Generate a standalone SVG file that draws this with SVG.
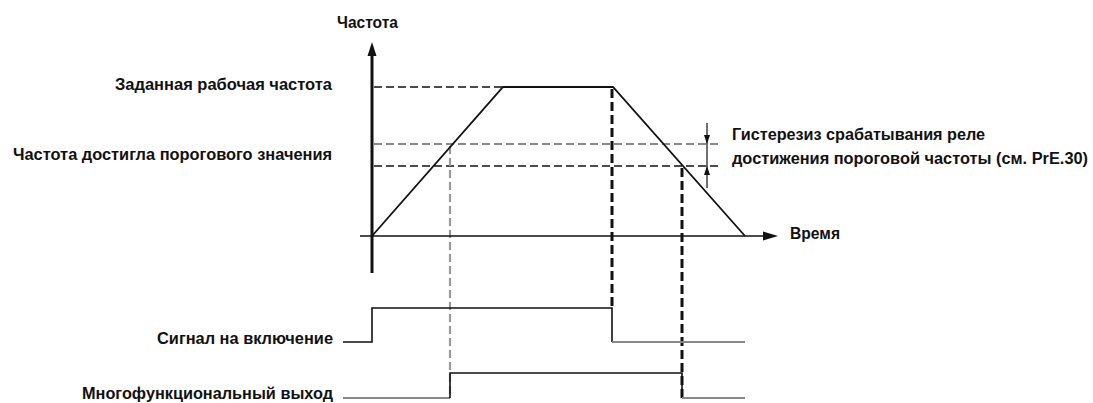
<svg xmlns="http://www.w3.org/2000/svg" width="1093" height="403" viewBox="0 0 1093 403">
<style>
text{font-family:"Liberation Sans",Arial,sans-serif;font-weight:bold;font-size:16px;fill:#111}
.ax{stroke:#111;fill:none}
.curve{stroke:#111;stroke-width:1.8;fill:none;stroke-linejoin:miter}
.hd{stroke:#111;stroke-width:1.6;stroke-dasharray:8 4;fill:none}
.hg{stroke:#888;stroke-width:2;stroke-dasharray:8 4;fill:none}
.vd{stroke:#111;stroke-width:3;stroke-dasharray:9 4;fill:none}
.vg{stroke:#999;stroke-width:2.2;stroke-dasharray:8 4;fill:none}
.sig{stroke:#111;stroke-width:1.6;fill:none}
.sigg{stroke:#888;stroke-width:2;fill:none}
.ah{fill:#111}
</style>
<rect width="1093" height="403" fill="#fff"/>
<g id="guides">
<line class="hd" x1="374" y1="87" x2="503" y2="87"/>
<line class="hg" x1="374" y1="144" x2="720" y2="144"/>
<line class="hd" x1="374" y1="166" x2="720" y2="166"/>
<line class="vg" x1="450" y1="146" x2="450" y2="398"/>
<line class="vd" x1="612" y1="89" x2="612" y2="308"/>
<line class="vd" x1="682" y1="168" x2="682" y2="398"/>
</g>
<g id="axes">
<line class="ax" stroke-width="3" x1="372" y1="54" x2="372" y2="273"/>
<polygon class="ah" points="372,42 376.5,56 367.5,56"/>
<line class="ax" stroke-width="1.6" x1="360" y1="236" x2="765" y2="236"/>
<polygon class="ah" points="778,236 763,231.5 763,240.5"/>
</g>
<g id="frequency-curve">
<polyline class="curve" points="372,236 503,87 613,87 745,236"/>
</g>
<g id="hysteresis">
<line stroke="#111" stroke-width="1.2" x1="707" y1="123" x2="707" y2="188"/>
<polygon class="ah" points="707,144 704,135 710,135"/>
<polygon class="ah" points="707,166 704,175 710,175"/>
</g>
<g id="signal-on">
<polyline class="sig" points="343,342 372,342 372,308 612,308 612,342"/>
<line class="sigg" x1="612" y1="342" x2="745" y2="342"/>
</g>
<g id="multi-output">
<line class="sigg" x1="343" y1="398" x2="450" y2="398"/>
<polyline class="sig" points="450,398 450,373 682,373 682,398"/>
<line class="sigg" x1="682" y1="398" x2="745" y2="398"/>
</g>
<g id="labels">
<text x="337" y="28" textLength="61" lengthAdjust="spacingAndGlyphs">Частота</text>
<text x="115" y="89.5" textLength="217" lengthAdjust="spacingAndGlyphs">Заданная рабочая частота</text>
<text x="13" y="159.5" textLength="319" lengthAdjust="spacingAndGlyphs">Частота достигла порогового значения</text>
<text x="732" y="139.5" textLength="253" lengthAdjust="spacingAndGlyphs">Гистерезиз срабатывания реле</text>
<text x="732" y="163.5" textLength="356" lengthAdjust="spacingAndGlyphs">достижения пороговой частоты (см. PrE.30)</text>
<text x="790" y="238.5" textLength="50" lengthAdjust="spacingAndGlyphs">Время</text>
<text x="157" y="343.5" textLength="176" lengthAdjust="spacingAndGlyphs">Сигнал на включение</text>
<text x="82" y="399" textLength="251" lengthAdjust="spacingAndGlyphs">Многофункциональный выход</text>
</g>
</svg>
